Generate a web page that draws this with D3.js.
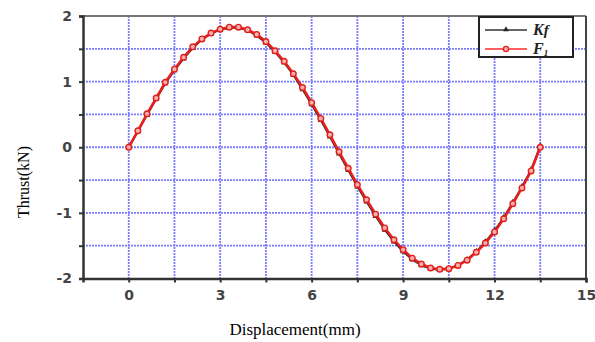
<!DOCTYPE html>
<html>
<head>
<meta charset="utf-8">
<script src="https://cdn.jsdelivr.net/npm/d3@7"></script>
<style>
  body { margin: 0; background: #fff; }
  svg { display: block; }
</style>
</head>
<body>
<div id="chart"></div>
<script>
// displacement (mm) samples
const displacement = [0, 0.3, 0.6, 0.9, 1.2, 1.5, 1.8, 2.1, 2.4, 2.7, 3.0, 3.3, 3.6, 3.9, 4.2, 4.5,
  4.8, 5.1, 5.4, 5.7, 6.0, 6.3, 6.6, 6.9, 7.2, 7.5, 7.8, 8.1, 8.4, 8.7, 9.0, 9.3, 9.6, 9.9,
  10.2, 10.5, 10.8, 11.1, 11.4, 11.7, 12.0, 12.3, 12.6, 12.9, 13.2, 13.5];
// thrust F1 (kN)
const thrustF1 = [0, 0.25, 0.51, 0.75, 0.99, 1.19, 1.37, 1.53, 1.65, 1.74, 1.80, 1.83, 1.83, 1.79, 1.72, 1.61,
  1.47, 1.31, 1.12, 0.91, 0.68, 0.44, 0.19, -0.07, -0.32, -0.57, -0.80, -1.02, -1.23, -1.41, -1.56, -1.69, -1.78, -1.84,
  -1.86, -1.85, -1.80, -1.72, -1.60, -1.46, -1.29, -1.09, -0.86, -0.62, -0.36, 0];
// thrust Kf (kN)
const thrustKf = [0, 0.24, 0.49, 0.73, 0.97, 1.17, 1.35, 1.51, 1.64, 1.73, 1.79, 1.82, 1.82, 1.78, 1.70, 1.59,
  1.45, 1.29, 1.10, 0.88, 0.65, 0.41, 0.16, -0.10, -0.35, -0.60, -0.83, -1.05, -1.26, -1.44, -1.59, -1.71, -1.80, -1.85,
  -1.87, -1.85, -1.80, -1.71, -1.59, -1.44, -1.27, -1.07, -0.84, -0.60, -0.34, 0.02];
const xTicks = [0, 3, 6, 9, 12, 15];
const yTicks = [-2, -1, 0, 1, 2];
const xGrid = [0, 1.5, 3, 4.5, 6, 7.5, 9, 10.5, 12, 13.5];
const yGrid = [-1.5, -1, -0.5, 0, 0.5, 1, 1.5];

const width = 595, height = 342;
const mLeft = 83, mRight = 586, mTop = 16, mBottom = 278.5;

const svg = d3.select('#chart').append('svg')
  .attr('width', width)
  .attr('height', height);

const x = d3.scaleLinear().domain([-1.5, 15]).range([mLeft, mRight]);
const y = d3.scaleLinear().domain([-2, 2]).range([mBottom, mTop]);

// grid
const grid = svg.append('g')
  .attr('stroke', '#5c5cff')
  .attr('stroke-width', 1.8)
  .attr('stroke-dasharray', '2,1')
  .attr('opacity', 0.8);
grid.selectAll('.vg').data(xGrid).join('line')
  .attr('x1', d => x(d)).attr('x2', d => x(d))
  .attr('y1', mTop).attr('y2', mBottom);
grid.selectAll('.hg').data(yGrid).join('line')
  .attr('x1', mLeft).attr('x2', mRight)
  .attr('y1', d => y(d)).attr('y2', d => y(d));

// frame: top / right
svg.append('line').attr('x1', mLeft).attr('x2', mRight).attr('y1', mTop).attr('y2', mTop)
  .attr('stroke', '#777').attr('stroke-width', 2);
svg.append('line').attr('x1', mRight).attr('x2', mRight).attr('y1', mTop).attr('y2', mBottom)
  .attr('stroke', '#444').attr('stroke-width', 2);

// axes
const xAxis = svg.append('g')
  .attr('transform', `translate(0,${mBottom})`)
  .call(d3.axisBottom(x).tickValues(xGrid.concat([15])).tickSize(4).tickPadding(8)
    .tickFormat(d => xTicks.includes(d) ? d : ''));
const yAxis = svg.append('g')
  .attr('transform', `translate(${mLeft},0)`)
  .call(d3.axisLeft(y).tickValues([-2, -1.5, -1, -0.5, 0, 0.5, 1, 1.5, 2]).tickSize(4).tickPadding(7)
    .tickFormat(d => yTicks.includes(d) ? d : ''));

[xAxis, yAxis].forEach(a => {
  a.select('.domain').attr('stroke', '#333').attr('stroke-width', 2.5);
  a.selectAll('.tick line').attr('stroke', '#333').attr('stroke-width', 2);
  a.selectAll('.tick text')
    .attr('fill', '#444')
    .style('font-family', 'DejaVu Sans, sans-serif')
    .style('font-weight', 'bold')
    .style('font-size', '14px');
});

// series
const line = d3.line()
  .x(d => x(d[0]))
  .y(d => y(d[1]));
const kfData = displacement.map((d, i) => [d, thrustKf[i]]);
const f1Data = displacement.map((d, i) => [d, thrustF1[i]]);

svg.append('path').datum(kfData)
  .attr('fill', 'none').attr('stroke', '#222').attr('stroke-width', 1.8)
  .attr('d', line);
svg.append('g').selectAll('path').data(kfData).join('path')
  .attr('d', d3.symbol().type(d3.symbolTriangle).size(16))
  .attr('transform', d => `translate(${x(d[0])},${y(d[1])})`)
  .attr('fill', '#222');

svg.append('path').datum(f1Data)
  .attr('fill', 'none').attr('stroke', '#e8201c').attr('stroke-width', 2.6)
  .attr('d', line);
svg.append('g').selectAll('circle').data(f1Data).join('circle')
  .attr('cx', d => x(d[0])).attr('cy', d => y(d[1]))
  .attr('r', 2.8)
  .attr('fill', '#f7b0ae').attr('stroke', '#e0201c').attr('stroke-width', 1.4);

// legend
const lg = svg.append('g');
lg.append('rect').attr('x', 479).attr('y', 17).attr('width', 94).attr('height', 40)
  .attr('fill', '#fff').attr('stroke', '#222').attr('stroke-width', 2);
lg.append('line').attr('x1', 485).attr('x2', 527).attr('y1', 30).attr('y2', 30)
  .attr('stroke', '#333').attr('stroke-width', 1.5);
lg.append('path').attr('d', d3.symbol().type(d3.symbolTriangle).size(14))
  .attr('transform', 'translate(506,29.5)').attr('fill', '#222');
lg.append('line').attr('x1', 485).attr('x2', 527).attr('y1', 49).attr('y2', 49)
  .attr('stroke', '#ff2a2a').attr('stroke-width', 1.5);
lg.append('circle').attr('cx', 506).attr('cy', 49).attr('r', 2.6)
  .attr('fill', '#f7b0ae').attr('stroke', '#e8201c').attr('stroke-width', 1.3);

const lt1 = lg.append('text').attr('x', 533).attr('y', 35)
  .style('font-family', 'Liberation Serif, serif').style('font-style', 'italic')
  .style('font-weight', 'bold').style('font-size', '16px').attr('fill', '#222');
lt1.append('tspan').text('K');
lt1.append('tspan').text('f').style('font-size', '15px');
const lt2 = lg.append('text').attr('x', 533).attr('y', 54)
  .style('font-family', 'Liberation Serif, serif').style('font-style', 'italic')
  .style('font-weight', 'bold').style('font-size', '16px').attr('fill', '#222');
lt2.append('tspan').text('F');
lt2.append('tspan').text('1').attr('dy', 2).style('font-size', '9px');

// axis titles
svg.append('text')
  .attr('transform', 'translate(29,182) rotate(-90)')
  .attr('text-anchor', 'middle')
  .style('font-family', 'Liberation Serif, serif')
  .style('font-size', '16px')
  .text('Thrust(kN)');
svg.append('text')
  .attr('x', 295).attr('y', 335)
  .attr('text-anchor', 'middle')
  .style('font-family', 'Liberation Serif, serif')
  .style('font-size', '17px')
  .text('Displacement(mm)');
</script>
</body>
</html>
